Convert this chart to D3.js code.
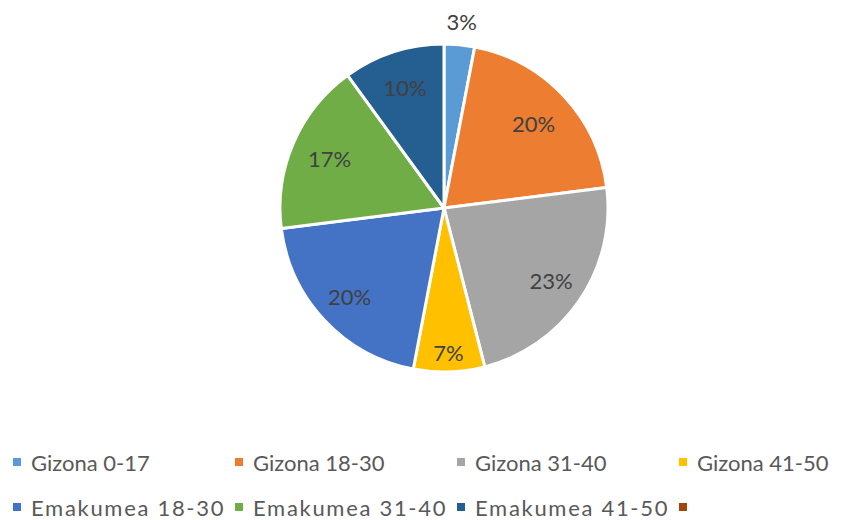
<!DOCTYPE html>
<html>
<head>
<meta charset="utf-8">
<script src="https://cdn.jsdelivr.net/npm/d3@7"></script>
<style>
  html, body { margin: 0; padding: 0; background: #ffffff; }
  svg { display: block; }
</style>
</head>
<body>
<svg id="chart" width="844" height="520"></svg>
<script>
// Age/sex groups and their share (percent)
const categories = [
  "Gizona 0-17", "Gizona 18-30", "Gizona 31-40", "Gizona 41-50",
  "Emakumea 18-30", "Emakumea 31-40", "Emakumea 41-50", ""
];
const values = [3, 20, 23, 7, 20, 17, 10, 0];
const colors = [
  "#5B9BD5", "#ED7D31", "#A5A5A5", "#FFC000",
  "#4472C4", "#70AD47", "#255E91", "#9E480E"
];
// Label distance from the centre, as a fraction of the radius
const labelRadius = [1.14, 0.75, 0.79, 0.88, 0.79, 0.76, 0.77, 0.77];

const data = categories.map((c, i) => ({ name: c, value: values[i], color: colors[i], lr: labelRadius[i] }));

const svg = d3.select("#chart");
const cx = 444, cy = 208, R = 164;

const pie = d3.pie().value(d => d.value).sort(null);
const arcs = pie(data);
const arc = d3.arc().innerRadius(0).outerRadius(R);

const g = svg.append("g").attr("transform", `translate(${cx},${cy})`);

g.selectAll("path.slice")
  .data(arcs.filter(a => a.data.value > 0))
  .join("path")
  .attr("class", "slice")
  .attr("d", arc)
  .attr("fill", d => d.data.color)
  .attr("stroke", "#ffffff")
  .attr("stroke-width", 3)
  .attr("stroke-linejoin", "round");

g.selectAll("text.lbl")
  .data(arcs.filter(a => a.data.value > 0))
  .join("text")
  .attr("class", "lbl")
  .attr("transform", d => {
    const la = d3.arc().innerRadius(R * d.data.lr).outerRadius(R * d.data.lr);
    const [x, y] = la.centroid(d);
    return `translate(${x},${y})`;
  })
  .attr("text-anchor", "middle")
  .attr("dominant-baseline", "central")
  .attr("font-family", "Lato, 'Open Sans', sans-serif")
  .attr("font-size", 22)
  .attr("fill", "#404040")
  .text(d => d.data.value + "%");

// Legend: four columns, two rows
const legend = svg.append("g").attr("font-family", "Lato, 'Open Sans', sans-serif");
const colX = d3.scalePoint().domain([0, 1, 2, 3]).range([13, 679]);
const rowY = d3.scalePoint().domain([0, 1]).range([462, 507]);

const items = legend.selectAll("g.item")
  .data(data)
  .join("g")
  .attr("class", "item")
  .attr("transform", (d, i) => `translate(${colX(i % 4)},${rowY(Math.floor(i / 4))})`);

items.append("rect")
  .attr("x", 0).attr("y", -4)
  .attr("width", 8).attr("height", 8)
  .attr("fill", d => d.color);

items.append("text")
  .attr("x", 18)
  .attr("dominant-baseline", "central")
  .attr("font-size", 22)
  .attr("fill", "#595959")
  .attr("letter-spacing", (d, i) => i >= 4 ? 1.7 : 0)
  .text(d => d.name);
</script>
</body>
</html>
